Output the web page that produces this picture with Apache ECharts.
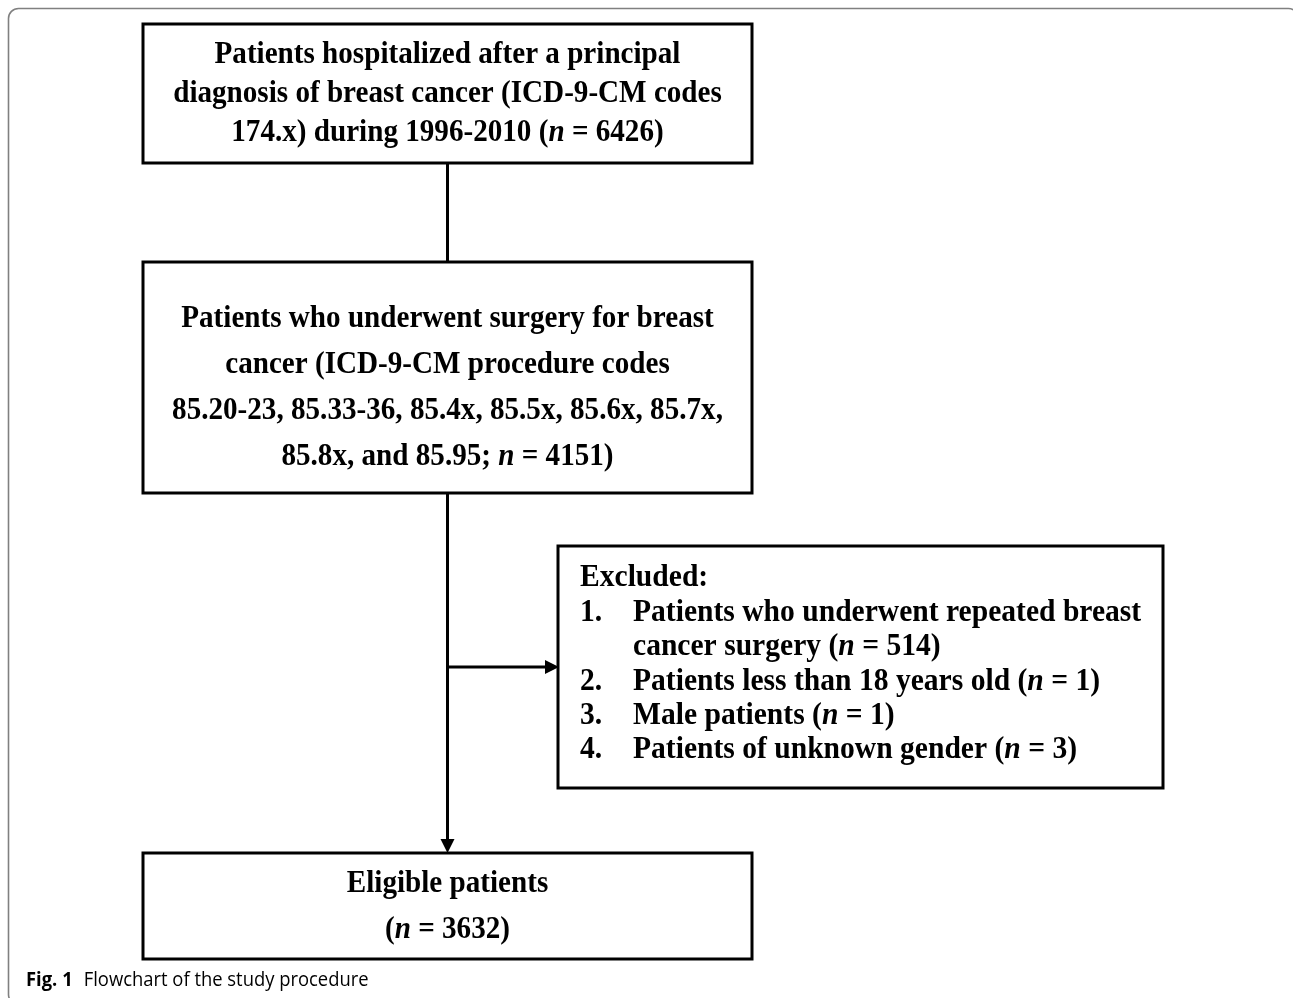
<!DOCTYPE html>
<html>
<head>
<meta charset="utf-8">
<script src="https://cdn.jsdelivr.net/npm/echarts@6/dist/echarts.min.js"></script>
<style>
  html, body { margin: 0; padding: 0; background: #fff; }
  #main { width: 1293px; height: 998px; }
</style>
</head>
<body>
<div id="main"></div>
<script>
// counts from the flowchart
const nHospitalized = 6426;
const nSurgery = 4151;
const nEligible = 3632;
const exclusionLabels = [
  ['Patients who underwent repeated breast', 'cancer surgery'],
  ['Patients less than 18 years old'],
  ['Male patients'],
  ['Patients of unknown gender']
];
const exclusionCounts = [514, 1, 1, 3];

const topLines = [
  'Patients hospitalized after a principal',
  'diagnosis of breast cancer (ICD-9-CM codes',
  '174.x) during 1996-2010 ({i|n} = ' + nHospitalized + ')'
];
const surgeryLines = [
  'Patients who underwent surgery for breast',
  'cancer (ICD-9-CM procedure codes',
  '85.20-23, 85.33-36, 85.4x, 85.5x, 85.6x, 85.7x,',
  '85.8x, and 85.95; {i|n} = ' + nSurgery + ')'
];
const eligibleLines = ['Eligible patients', '({i|n} = ' + nEligible + ')'];

const SERIF = '"Liberation Serif", "Times New Roman", serif';
const SX = 0.91;

function txt(str, x, y, align, fs) {
  fs = fs || 32;
  return {
    type: 'text',
    x: x,
    y: y,
    scaleX: SX,
    silent: true,
    style: {
      text: str,
      fill: '#000',
      fontFamily: SERIF,
      fontSize: fs,
      fontWeight: 'bold',
      fontStyle: 'normal',
      align: align || 'center',
      verticalAlign: 'middle',
      rich: {
        i: { fontFamily: SERIF, fontSize: fs, fontWeight: 'bold', fontStyle: 'italic', fill: '#000' }
      }
    }
  };
}

function box(x, y, w, h) {
  return {
    type: 'rect',
    silent: true,
    shape: { x: x, y: y, width: w, height: h },
    style: { fill: '#fff', stroke: '#000', lineWidth: 3 }
  };
}

function seg(x1, y1, x2, y2) {
  return {
    type: 'line',
    silent: true,
    shape: { x1: x1, y1: y1, x2: x2, y2: y2 },
    style: { stroke: '#000', lineWidth: 3 }
  };
}

function head(points) {
  return { type: 'polygon', silent: true, shape: { points: points }, style: { fill: '#000' } };
}

const cx = 447.5;
let elements = [];

// outer frame of the figure
elements.push({
  type: 'rect',
  silent: true,
  shape: { x: 8.5, y: 8.5, width: 1290, height: 996, r: 10 },
  style: { fill: 'none', stroke: '#808080', lineWidth: 1.6 }
});

// connectors
elements.push(seg(cx, 163, cx, 262));
elements.push(seg(cx, 493, cx, 840));
elements.push(head([[cx - 7, 839], [cx + 7, 839], [cx, 853]]));
elements.push(seg(cx, 667, 547, 667));
elements.push(head([[545, 660], [545, 674], [559, 667]]));

// boxes
elements.push(box(143, 24, 609, 139));
elements.push(box(143, 262, 609, 231));
elements.push(box(558, 546, 605, 242));
elements.push(box(143, 853, 609, 106));

topLines.forEach((s, i) => elements.push(txt(s, cx, 55 + i * 39)));
surgeryLines.forEach((s, i) => elements.push(txt(s, cx, 319 + i * 46)));
eligibleLines.forEach((s, i) => elements.push(txt(s, cx, 884 + i * 46)));

// excluded list
const EXF = 32.5;
let ey = 578;
const estep = 34.4;
elements.push(txt('Excluded:', 580, ey, 'left', EXF));
exclusionLabels.forEach((lines, k) => {
  lines.forEach((s, j) => {
    ey += estep;
    if (j === 0) elements.push(txt((k + 1) + '.', 580, ey, 'left', EXF));
    const last = j === lines.length - 1;
    const str = last ? s + ' ({i|n} = ' + exclusionCounts[k] + ')' : s;
    elements.push(txt(str, 633, ey, 'left', EXF));
  });
});

// caption
const CAP = '"Open Sans", sans-serif';
elements.push({
  type: 'text',
  x: 26,
  y: 980,
  scaleX: 0.92,
  silent: true,
  style: {
    text: '{b|Fig. 1}{r|Flowchart of the study procedure}',
    align: 'left',
    verticalAlign: 'middle',
    fill: '#000',
    fontFamily: CAP,
    fontSize: 20,
    rich: {
      b: { fontFamily: CAP, fontSize: 20, fontWeight: 'bold', fill: '#000', padding: [0, 12, 0, 0] },
      r: { fontFamily: CAP, fontSize: 20, fontWeight: 'normal', fill: '#000' }
    }
  }
});

const chart = echarts.init(document.getElementById('main'));
chart.setOption({
  animation: false,
  graphic: { elements: elements }
});
</script>
</body>
</html>
